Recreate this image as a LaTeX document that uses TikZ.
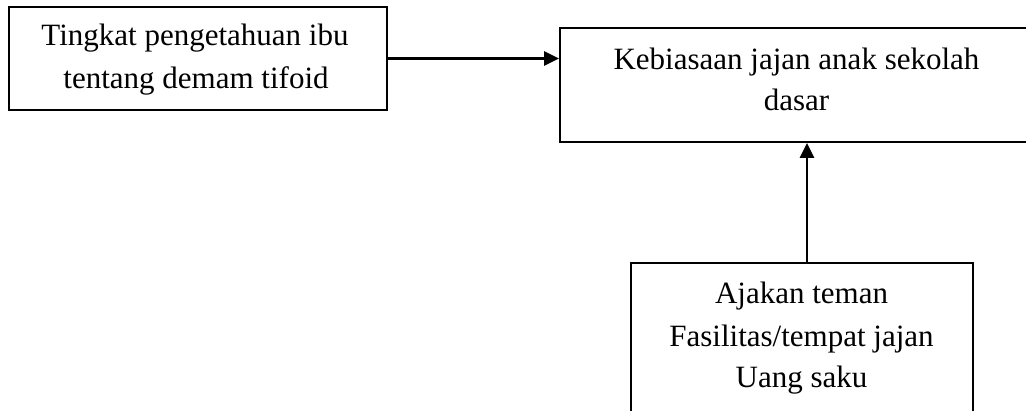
\documentclass[tikz,border=0pt]{standalone}
\usepackage{fontspec}
\setmainfont{Liberation Serif}
\usetikzlibrary{arrows.meta}
\begin{document}
\begin{tikzpicture}[x=1pt,y=-1pt,
  box/.style={draw=black,line width=1.8pt,rectangle,inner sep=0pt,anchor=center},
  txt/.style={anchor=base,inner sep=0pt,font=\fontsize{31}{43}\selectfont},
  arr/.style={line width=2.4pt,-{Triangle[length=15pt,width=14pt]}}]
\useasboundingbox (0,0) rectangle (1026,410);
\clip (0,0) rectangle (1026,410);
\fill[white] (0,0) rectangle (1026,410);
% boxes
\node[box,minimum width=378pt,minimum height=103pt] (b1) at (198,58.5) {};
\node[box,minimum width=473pt,minimum height=114pt] (b2) at (796.5,85) {};
\node[box,minimum width=342pt,minimum height=167pt] (b3) at (802,346.5) {};
% texts
\node[txt] (t1a) at (195,45) {Tingkat pengetahuan ibu};
\node[txt] (t1b) at (196,88) {tentang demam tifoid};
\node[txt] (t2a) at (796.5,69) {Kebiasaan jajan anak sekolah};
\node[txt] (t2b) at (796.5,110) {dasar};
\node[txt] (t3a) at (801.5,303) {Ajakan teman};
\node[txt] (t3b) at (801.5,346) {Fasilitas/tempat jajan};
\node[txt] (t3c) at (801.5,387) {Uang saku};
% connectors
\draw[arr] (b1.east) -- (b1.east -| b2.west);
\coordinate (c3) at ([xshift=5pt]b3.north);
\draw[arr] (c3) -- (c3 |- b2.south);
\end{tikzpicture}
\end{document}
